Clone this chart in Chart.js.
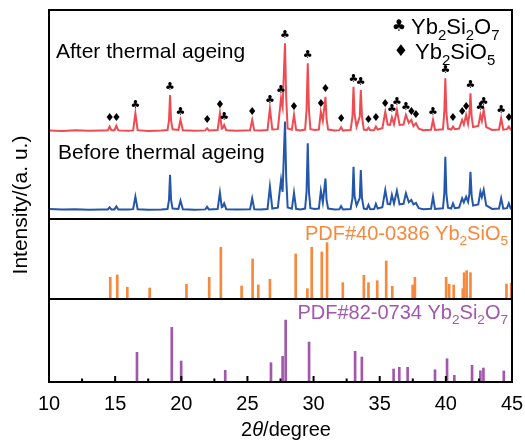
<!DOCTYPE html>
<html lang="en">
<head>
<meta charset="UTF-8">
<title>XRD Yb2Si2O7 thermal ageing</title>
<style>
  body { margin: 0; background: #fff; }
  #wrap { width: 525px; height: 443px; }
</style>
</head>
<body>
<div id="wrap"><canvas id="xrd"></canvas></div>
<script src="https://cdn.jsdelivr.net/npm/chart.js@4.4.0/dist/chart.umd.min.js"></script>
<script>
// patterns: [2theta, intensity (a.u., stacked)]
const afterPattern = [
  [10.0,42.4],[11.0,42.1],[12.0,42.5],[13.0,42.2],[14.0,42.3],
  [14.45,42.4],[14.58,44.2],[14.72,42.5],[14.95,42.5],[15.09,44.6],[15.24,42.4],
  [16.0,42.2],[16.36,42.4],[16.53,50.6],[16.70,42.5],[17.5,42.1],[18.5,42.3],
  [18.96,42.6],[19.07,47.0],[19.15,59.3],[19.23,47.0],[19.34,42.9],[19.78,42.6],[19.94,47.4],[20.12,42.5],
  [21.0,42.2],[21.82,42.4],[21.95,43.4],[22.08,42.4],
  [22.75,42.6],[22.92,50.6],[23.06,43.2],[23.12,43.4],[23.24,45.0],[23.4,42.5],
  [24.2,42.2],[25.2,42.5],[25.36,47.4],[25.52,42.4],
  [26.0,42.3],[26.52,42.6],[26.70,53.0],[26.88,42.8],
  [27.3,43.0],[27.54,57.8],[27.66,53.7],[27.84,84.1],[27.93,58.0],[28.04,43.3],
  [28.36,42.7],[28.52,49.8],[28.68,42.7],[29.0,42.4],[29.36,42.8],[29.47,52.0],[29.56,74.5],[29.65,52.0],[29.76,43.0],
  [30.1,42.6],[30.4,42.8],[30.55,51.3],[30.7,47.0],[30.90,58.5],[30.98,48.0],[31.1,42.8],
  [31.6,42.3],[31.95,42.5],[32.08,43.9],[32.22,42.4],
  [32.8,42.6],[32.94,49.0],[33.02,63.3],[33.1,50.0],[33.25,44.2],[33.49,49.0],[33.57,61.7],[33.66,49.0],[33.8,42.8],
  [34.02,42.5],[34.15,43.7],[34.28,42.5],[34.58,42.6],[34.71,44.2],[34.85,42.8],
  [35.2,43.4],[35.42,51.3],[35.6,45.2],[35.78,45.0],[35.92,48.7],[36.08,45.4],[36.30,52.2],
  [36.5,45.0],[36.8,45.2],[36.98,49.8],[37.2,46.0],[37.39,47.4],[37.55,44.5],[37.74,45.8],[37.95,43.2],
  [38.3,42.5],[38.88,42.7],[39.03,47.4],[39.18,42.6],[39.78,42.9],[39.88,51.0],[39.96,67.3],[40.04,51.0],[40.16,43.2],
  [40.4,42.8],[40.54,44.2],[40.68,43.0],
  [41.0,43.3],[41.23,47.4],[41.36,45.2],[41.53,49.8],[41.68,45.5],[41.78,50.0],[41.86,60.1],[41.95,49.0],[42.06,44.0],
  [42.45,44.5],[42.61,49.8],[42.72,47.0],[42.86,52.2],[43.05,44.0],
  [43.5,42.6],[44.02,42.8],[44.18,48.2],[44.34,42.8],[44.62,43.0],[44.76,44.2],[44.9,42.8],[45.0,42.5]
];
const beforePattern = [
  [10.0,4.8],[11.0,4.5],[12.0,4.7],[13.0,4.4],[14.0,4.6],
  [14.45,4.6],[14.58,5.6],[14.72,4.6],[14.95,4.6],[15.09,6.0],[15.24,4.5],
  [16.0,4.5],[16.36,4.7],[16.53,10.7],[16.70,4.7],[17.5,4.4],[18.5,4.6],
  [18.96,4.8],[19.07,9.0],[19.15,21.1],[19.23,9.0],[19.34,5.0],[19.78,4.8],[19.94,8.8],[20.12,4.7],
  [21.0,4.4],[21.82,4.6],[21.95,5.8],[22.08,4.6],
  [22.75,4.8],[22.92,12.6],[23.06,5.6],[23.12,5.8],[23.24,7.5],[23.4,4.7],
  [24.2,4.5],[25.2,4.7],[25.36,9.9],[25.52,4.6],
  [26.0,4.5],[26.52,4.8],[26.70,15.5],[26.88,5.0],
  [27.3,5.4],[27.54,18.7],[27.66,13.0],[27.84,46.6],[27.93,20.0],[28.04,5.5],
  [28.36,4.9],[28.52,12.6],[28.68,4.9],[29.0,4.6],[29.36,5.0],[29.47,13.0],[29.56,36.2],[29.65,13.0],[29.76,5.2],
  [30.1,4.8],[30.4,5.0],[30.55,13.5],[30.7,8.0],[30.90,19.3],[30.98,9.0],[31.1,5.0],
  [31.6,4.5],[31.95,4.7],[32.08,6.2],[32.22,4.6],
  [32.8,4.8],[32.94,10.0],[33.02,25.0],[33.1,11.0],[33.25,6.5],[33.49,10.0],[33.57,23.4],[33.66,10.0],[33.8,5.0],
  [34.02,4.7],[34.15,6.7],[34.28,4.7],[34.58,4.8],[34.71,7.2],[34.85,5.0],
  [35.2,5.6],[35.42,13.9],[35.6,7.2],[35.78,7.0],[35.92,11.5],[36.08,7.4],[36.30,13.5],
  [36.5,7.0],[36.8,7.3],[36.98,12.3],[37.2,8.0],[37.39,9.1],[37.55,7.0],[37.74,7.7],[37.95,5.2],
  [38.3,4.7],[38.88,4.9],[39.03,10.7],[39.18,4.8],[39.78,5.1],[39.88,12.0],[39.96,29.8],[40.04,12.0],[40.16,5.4],
  [40.4,5.0],[40.54,7.5],[40.68,5.2],
  [41.0,5.5],[41.23,9.9],[41.36,8.0],[41.53,10.7],[41.68,8.2],[41.78,12.0],[41.86,22.6],[41.95,11.0],[42.06,6.4],
  [42.45,7.0],[42.61,13.1],[42.72,10.5],[42.86,13.9],[43.05,6.5],
  [43.5,4.8],[44.02,5.0],[44.18,9.9],[44.34,5.0],[44.62,5.2],[44.76,7.5],[44.9,5.0],[45.0,4.8]
];

// reference cards: [2theta, relative intensity %]
const pdf400386 = [
  [14.63,38.5],[15.16,42.6],[15.92,20.8],[17.61,19.5],[20.39,26.1],[22.11,38.5],[22.99,91.8],
  [24.56,23.1],[25.39,71.0],[25.82,24.9],[26.70,35.0],[28.65,79.9],[29.53,18.3],[29.86,91.8],
  [30.62,83.5],[31.02,100],[32.21,29.0],[33.80,42.1],[34.15,29.0],[34.81,32.5],[35.49,67.5],
  [35.95,22.6],[37.49,24.9],[37.66,38.5],[40.02,38.5],[40.25,26.1],[40.59,24.9],[41.28,18.3],
  [41.38,46.7],[41.57,50.3],[41.86,46.7],[44.58,26.6],[44.94,27.9]
];
const pdf820734 = [
  [16.65,47.9],[19.28,88.2],[19.99,33.9],[23.32,18.9],[26.78,31.1],[27.66,41.5],[27.89,100],
  [29.66,64.5],[33.14,49.5],[33.65,40.3],[36.05,21.0],[36.48,23.7],[37.11,23.7],[39.18,19.8],
  [40.09,37.6],[40.64,10.8],[41.98,26.9],[42.61,18.2],[42.84,22.6],[44.38,17.7]
];

// phase marks above the aged pattern
const clubMarks = [16.53,19.15,19.94,23.24,26.70,27.54,27.84,29.56,33.02,33.57,35.92,36.30,36.98,39.03,39.96,41.86,42.61,42.86,44.18];
const diamondMarks = [14.58,15.09,21.95,22.92,25.36,28.52,30.55,30.90,32.08,34.15,34.71,35.42,37.39,37.74,40.54,41.23,41.53,44.76];

const majorTicks = [10,15,20,25,30,35,40,45];
const minorTicks = [12.5,17.5,22.5,27.5,32.5,37.5,42.5];

const FONT = "'Liberation Sans', Arial, sans-serif";
const RED = '#ee4b52';
const BLUE = '#2456aa';
const ORANGE = '#f7883c';
const PURPLE = '#a257ad';

function toXY(arr) {
  return arr.map(p => ({x: p[0], y: p[1]}));
}

// draw text pieces with subscripts / italics
function drawRich(ctx, parts, x, y, size, color, align) {
  ctx.save();
  ctx.fillStyle = color;
  ctx.textBaseline = 'alphabetic';
  ctx.textAlign = 'left';
  const fontOf = p => (p.it ? 'italic ' : '') + (p.sub ? size * 0.68 : size) + 'px ' + FONT;
  let w = 0;
  parts.forEach(p => { ctx.font = fontOf(p); w += ctx.measureText(p.t).width; });
  let cx = x;
  if (align === 'right') cx = x - w;
  if (align === 'center') cx = x - w / 2;
  parts.forEach(p => {
    ctx.font = fontOf(p);
    ctx.fillText(p.t, cx, p.sub ? y + size * 0.28 : y);
    cx += ctx.measureText(p.t).width;
  });
  ctx.restore();
}

const n = t => ({t: t});
const s = t => ({t: t, sub: true});

const decor = {
  id: 'decor',
  afterDatasetsDraw(chart) {
    const ctx = chart.ctx;
    const a = chart.chartArea;
    const xs = chart.scales.x;
    const yTop = chart.scales.yTop;

    // frame + panel separators
    ctx.save();
    ctx.strokeStyle = '#000';
    ctx.lineWidth = 2;
    ctx.strokeRect(a.left, a.top, a.width, a.height);
    ['yTop', 'yMid'].forEach(id => {
      const b = chart.scales[id].bottom;
      ctx.beginPath();
      ctx.moveTo(a.left, b);
      ctx.lineTo(a.right, b);
      ctx.stroke();
    });
    // inward ticks on the bottom axis
    majorTicks.forEach(v => {
      const px = xs.getPixelForValue(v);
      ctx.beginPath(); ctx.moveTo(px, a.bottom); ctx.lineTo(px, a.bottom - 6); ctx.stroke();
    });
    minorTicks.forEach(v => {
      const px = xs.getPixelForValue(v);
      ctx.beginPath(); ctx.moveTo(px, a.bottom); ctx.lineTo(px, a.bottom - 3.5); ctx.stroke();
    });
    ctx.restore();

    // phase marks
    const peakTop = t => {
      let m = -Infinity;
      afterPattern.forEach(p => { if (Math.abs(p[0] - t) < 0.06 && p[1] > m) m = p[1]; });
      return m;
    };
    ctx.save();
    ctx.fillStyle = '#000';
    ctx.textAlign = 'center';
    ctx.textBaseline = 'middle';
    ctx.font = "11px 'DejaVu Sans'";
    clubMarks.forEach(t => {
      ctx.fillText('\u2663', xs.getPixelForValue(t), yTop.getPixelForValue(peakTop(t)) - 8);
    });
    diamondMarks.forEach(t => {
      ctx.fillText('\u2666', xs.getPixelForValue(t), yTop.getPixelForValue(peakTop(t)) - 8);
    });
    // legend symbols
    ctx.font = "16px 'DejaVu Sans'";
    ctx.fillText('\u2663', 399, 27);
    ctx.fillText('\u2666', 401, 52);
    ctx.restore();

    // labels
    drawRich(ctx, [n('Yb'), s('2'), n('Si'), s('2'), n('O'), s('7')], 411, 33.5, 22, '#000');
    drawRich(ctx, [n('Yb'), s('2'), n('SiO'), s('5')], 415, 58.5, 22, '#000');
    drawRich(ctx, [n('After thermal ageing')], 56, 58, 21, '#000');
    drawRich(ctx, [n('Before thermal ageing')], 58, 158.5, 21, '#000');
    drawRich(ctx, [n('PDF#40-0386 Yb'), s('2'), n('SiO'), s('5')], 508, 239.5, 20, ORANGE, 'right');
    drawRich(ctx, [n('PDF#82-0734 Yb'), s('2'), n('Si'), s('2'), n('O'), s('7')], 508, 318.5, 20, PURPLE, 'right');
    drawRich(ctx, [n('2'), {t: '\u03b8', it: true}, n('/degree')], 286, 436, 20, '#000', 'center');

    // y title
    ctx.save();
    ctx.translate(27, 205);
    ctx.rotate(-Math.PI / 2);
    ctx.fillStyle = '#000';
    ctx.font = '21px ' + FONT;
    ctx.textAlign = 'center';
    ctx.textBaseline = 'alphabetic';
    ctx.fillText('Intensity/(a. u.)', 0, 0);
    ctx.restore();
  }
};

const chart = new Chart(document.getElementById('xrd'), {
  type: 'line',
  data: {
    datasets: [
      {type: 'line', label: 'After', data: toXY(afterPattern), yAxisID: 'yTop',
       borderColor: RED, borderWidth: 2, pointRadius: 0, tension: 0},
      {type: 'line', label: 'Before', data: toXY(beforePattern), yAxisID: 'yTop',
       borderColor: BLUE, borderWidth: 2, pointRadius: 0, tension: 0},
      {type: 'bar', label: 'PDF#40-0386', data: toXY(pdf400386), yAxisID: 'yMid',
       backgroundColor: ORANGE, barThickness: 2, grouped: false},
      {type: 'bar', label: 'PDF#82-0734', data: toXY(pdf820734), yAxisID: 'yBot',
       backgroundColor: PURPLE, barThickness: 2, grouped: false}
    ]
  },
  options: {
    responsive: true,
    maintainAspectRatio: false,
    animation: false,
    layout: {padding: {left: 49, right: 13, top: 10, bottom: 17}},
    plugins: {legend: {display: false}, tooltip: {enabled: false}},
    font: {family: FONT},
    scales: {
      x: {
        type: 'linear', min: 10, max: 45, offset: false,
        grid: {display: false, drawTicks: false},
        border: {display: false},
        ticks: {stepSize: 5, padding: 10, color: '#000', font: {family: FONT, size: 20}, maxRotation: 0},
        afterFit(scale) {
          // keep the plot edges where the layout padding puts them
          scale.paddingLeft = 0;
          scale.paddingRight = 0;
        }
      },
      yTop: {position: 'left', stack: 'xrd', stackWeight: 209, weight: 3, display: false, min: 0, max: 100},
      yMid: {position: 'left', stack: 'xrd', stackWeight: 80, weight: 2, display: false, min: 0, max: 142},
      yBot: {position: 'left', stack: 'xrd', stackWeight: 83, weight: 1, display: false, min: 0, max: 134}
    }
  },
  plugins: [decor]
});
</script>
</body>
</html>
